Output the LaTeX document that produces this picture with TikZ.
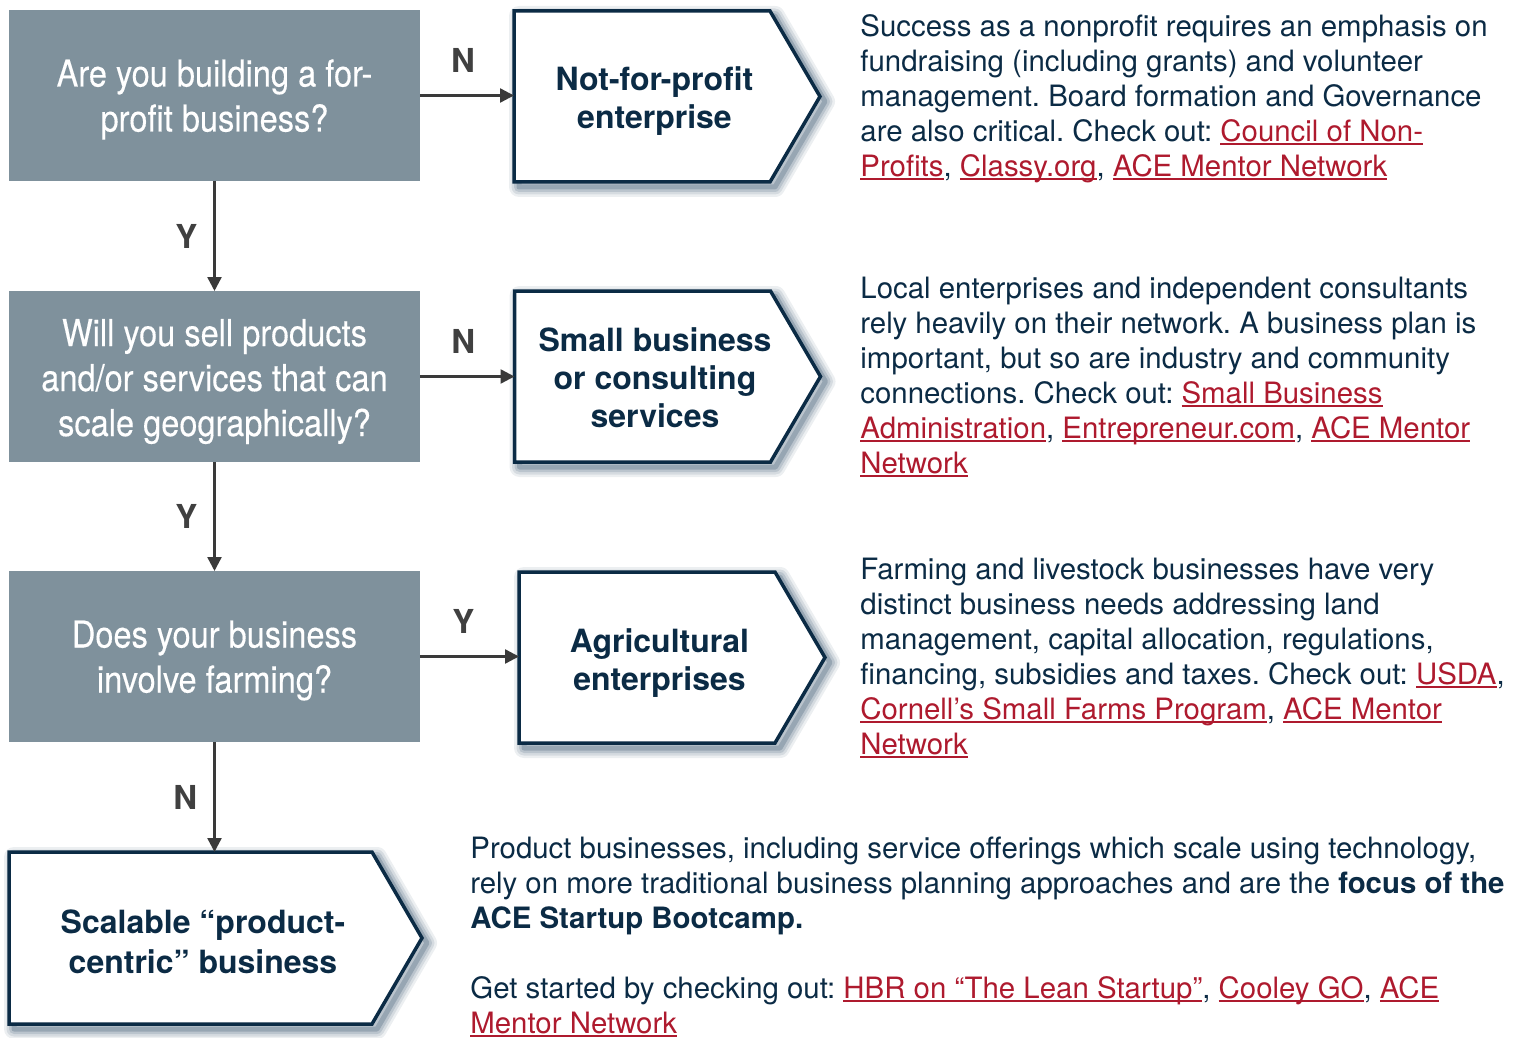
\documentclass[tikz,border=0pt]{standalone}
\usepackage{fontspec}
\setmainfont{TeX Gyre Heros}
\newfontfamily\condfont[FakeStretch=0.88,FakeBold=0.3]{TeX Gyre Heros}
\usetikzlibrary{arrows.meta,calc}
\definecolor{qgrey}{HTML}{7F919C}
\definecolor{navy}{HTML}{0B2B45}
\definecolor{linkred}{HTML}{AE1A2E}
\definecolor{arrowc}{HTML}{3A3A3A}
\definecolor{lblc}{HTML}{404040}
\definecolor{shadowc}{HTML}{2F4C66}
\newsavebox{\lnkbox}
\newcommand{\lnk}[1]{{\color{linkred}\sbox{\lnkbox}{#1}\rlap{\rule[-1.8pt]{\wd\lnkbox}{0.9pt}}\usebox{\lnkbox}}}
\pgfdeclarelayer{shadowlayer}
\pgfdeclarelayer{shapelayer}
\pgfsetlayers{shadowlayer,shapelayer,main}
\frenchspacing
\begin{document}
\begin{tikzpicture}[x=0.5pt,y=-0.5pt,
  qbox/.style={fill=qgrey, minimum width=205.5pt, minimum height=85.5pt, inner sep=0pt, outer sep=0pt,
    text=white, font=\condfont\fontsize{18.5}{22.5}\selectfont, align=center, text depth=5pt, text height=41pt},
  obox/.style={minimum width=140.5pt, minimum height=85.5pt, inner sep=0pt, outer sep=0pt,
    text=navy, font=\bfseries\fontsize{16}{19}\selectfont, align=center, text depth=5pt, text height=37.5pt},
  pent/.style={draw=navy, fill=white, line width=1.75pt, line join=miter},
  desc/.style={anchor=base west, inner sep=0pt, text=navy, font=\fontsize{14.7}{17.5}\selectfont, align=left},
  arr/.style={draw=arrowc, line width=1.2pt, -{Triangle[length=7pt,width=7pt]}},
  lbl/.style={font=\bfseries\fontsize{16.5}{16.5}\selectfont, text=lblc, inner sep=0pt}]
\useasboundingbox (0,0) rectangle (1527,1038);

% decision boxes
\node[qbox] (q1) at (214.5,95.5) {Are you building a for-\\profit business?};
\node[qbox, text height=64.5pt] (q2) at (214.5,376.5) {Will you sell products\\and/or services that can\\scale geographically?};
\node[qbox] (q3) at (214.5,656.5) {Does your business\\involve farming?};

% outcome boxes
\node[obox] (o1) at (654.5,96.5) {Not-for-profit\\enterprise};
\node[obox, text height=55.5pt] (o2) at (655,376.5) {Small business\\or consulting\\services};
\node[obox] (o3) at (659.5,657.5) {Agricultural\\enterprises};
\node[obox, minimum width=194pt, minimum height=86pt, font=\bfseries\fontsize{16}{20}\selectfont, text height=40pt] (o4) at (203,938) {Scalable “product-\\centric” business};

\begin{pgfonlayer}{shadowlayer}
\begin{scope}[transform canvas={xshift=2.5pt,yshift=-2.5pt}]
\foreach \n in {o1,o2,o3,o4}{
  \foreach \w/\op in {10/0.09,7.5/0.12,5/0.16,2.5/0.25}{
    \draw[shadowc, line width={\w*1pt}, opacity=\op, line join=round]
      (\n.north west) -- ($(\n.north east)+(-25,0)$) -- ($(\n.east)+(25,0)$) -- ($(\n.south east)+(-25,0)$) -- (\n.south west) -- cycle;
  }
}
\end{scope}
\end{pgfonlayer}
\begin{pgfonlayer}{shapelayer}
\foreach \n in {o1,o2,o3,o4}{
  \draw[pent] (\n.north west) -- ($(\n.north east)+(-25,0)$) -- ($(\n.east)+(25,0)$) -- ($(\n.south east)+(-25,0)$) -- (\n.south west) -- cycle;
}
\end{pgfonlayer}

% connectors
\draw[arr] (q1.east) -- node[lbl, above=11pt, xshift=-2pt] {N} (q1.east -| o1.west);
\draw[arr] (q2.east) -- node[lbl, above=11pt, xshift=-2pt] {N} (q2.east -| o2.west);
\draw[arr] (q3.east) -- node[lbl, above=11pt, xshift=-3pt] {Y} (q3.east -| o3.west);
\draw[arr] (q1.south) -- node[lbl, left=8pt] {Y} (q2.north);
\draw[arr] (q2.south) -- node[lbl, left=8pt] {Y} (q3.north);
\draw[arr] (q3.south) -- node[lbl, left=8pt] {N} (q3.south |- o4.north);

% descriptions (anchor = baseline of last line)
\node[desc] (d1) at (860,176.5) {Success as a nonprofit requires an emphasis on\\
fundraising (including grants) and volunteer\\
management. Board formation and Governance\\
are also critical. Check out: \lnk{Council of Non-}\\
\lnk{Profits}, \lnk{Classy.org}, \lnk{ACE Mentor Network}};

\node[desc] (d2) at (860,473) {Local enterprises and independent consultants\\
rely heavily on their network. A business plan is\\
important, but so are industry and community\\
connections. Check out: \lnk{Small Business}\\
\lnk{Administration}, \lnk{Entrepreneur.com}, \lnk{ACE Mentor}\\
\lnk{Network}};

\node[desc] (d3) at (860,754) {Farming and livestock businesses have very\\
distinct business needs addressing land\\
management, capital allocation, regulations,\\
financing, subsidies and taxes. Check out: \lnk{USDA},\\
\lnk{Cornell’s Small Farms Program}, \lnk{ACE Mentor}\\
\lnk{Network}};

\node[desc] (d4) at (470,1033.5) {Product businesses, including service offerings which scale using technology,\\
rely on more traditional business planning approaches and are the \textbf{focus of the}\\
\textbf{ACE Startup Bootcamp.}\\[17.5pt]
Get started by checking out: \lnk{HBR on “The Lean Startup”}, \lnk{Cooley GO}, \lnk{ACE}\\
\lnk{Mentor Network}};
\end{tikzpicture}
\end{document}
